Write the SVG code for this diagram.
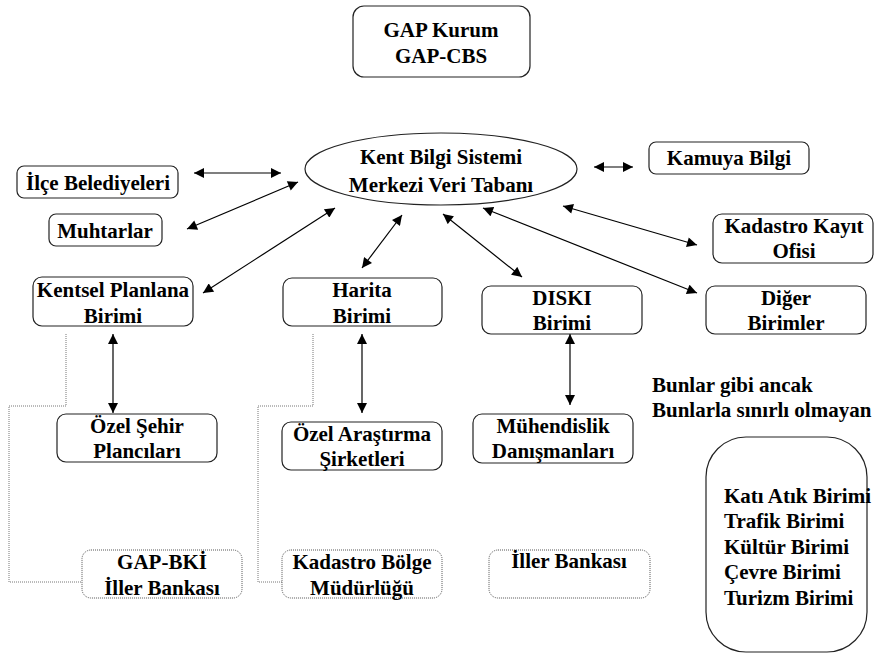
<svg xmlns="http://www.w3.org/2000/svg" width="875" height="655" viewBox="0 0 875 655">
<style>
.box{fill:#fff;stroke:#222;stroke-width:1.2}
.dbox{fill:#fff;stroke:#555;stroke-width:1;stroke-dasharray:1 1}
text{font-family:'Liberation Serif','Times New Roman','DejaVu Serif',serif;font-weight:bold;font-size:21px;fill:#000}
.c{text-anchor:middle}
.arr{stroke:#000;stroke-width:1.2;fill:none;marker-start:url(#ah);marker-end:url(#ah)}
.dot{stroke:#777;stroke-width:1;fill:none;stroke-dasharray:1 1}
</style>
<defs>
<marker id="ah" viewBox="0 0 10 10" refX="10" refY="5" markerWidth="11" markerHeight="10" markerUnits="userSpaceOnUse" orient="auto-start-reverse">
<path d="M0,0 L10,5 L0,10 Z" fill="#000"/>
</marker>
</defs>
<rect width="875" height="655" fill="#fff"/>
<g id="connectors">
<line class="arr" x1="194" y1="173" x2="281" y2="173"/>
<line class="arr" x1="187" y1="229" x2="298" y2="182"/>
<line class="arr" x1="203" y1="293" x2="335" y2="208"/>
<line class="arr" x1="362" y1="268" x2="402" y2="215"/>
<line class="arr" x1="443" y1="214" x2="522" y2="277"/>
<line class="arr" x1="594" y1="167" x2="633" y2="167"/>
<line class="arr" x1="563" y1="206" x2="697" y2="245"/>
<line class="arr" x1="483" y1="208" x2="697" y2="293"/>
<line class="arr" x1="113" y1="334" x2="113" y2="413"/>
<line class="arr" x1="362" y1="334" x2="362" y2="413"/>
<line class="arr" x1="570" y1="334" x2="570" y2="405"/>
<polyline class="dot" points="66,334 66,406 9,406 9,582 82,582"/>
<polyline class="dot" points="313,334 313,406 258,406 258,582 282,582"/>
</g>
<g id="gap"><rect class="box" x="353" y="6" width="177" height="71" rx="11"/>
<text class="c" x="441" y="37">GAP Kurum</text><text class="c" x="441" y="63">GAP-CBS</text></g>
<g id="kbs"><ellipse class="box" cx="441" cy="169" rx="136" ry="36"/>
<text class="c" x="441" y="164">Kent Bilgi Sistemi</text><text class="c" x="441" y="192">Merkezi Veri Tabanı</text></g>
<g id="ilce"><rect class="box" x="17" y="166" width="161" height="32" rx="7"/>
<text class="c" x="98" y="190">İlçe Belediyeleri</text></g>
<g id="muhtar"><rect class="box" x="49" y="214" width="113" height="32" rx="7"/>
<text class="c" x="105" y="238">Muhtarlar</text></g>
<g id="kentsel"><rect class="box" x="33" y="277" width="160" height="49" rx="9"/>
<text class="c" x="113" y="297">Kentsel Planlana</text><text class="c" x="113" y="323">Birimi</text></g>
<g id="harita"><rect class="box" x="283" y="278" width="159" height="48" rx="9"/>
<text class="c" x="362" y="297">Harita</text><text class="c" x="362" y="323">Birimi</text></g>
<g id="diski"><rect class="box" x="482" y="286" width="160" height="48" rx="9"/>
<text class="c" x="562" y="305">DISKI</text><text class="c" x="562" y="330">Birimi</text></g>
<g id="kamuya"><rect class="box" x="649" y="142" width="160" height="32" rx="7"/>
<text class="c" x="729" y="165">Kamuya Bilgi</text></g>
<g id="kadastro"><rect class="box" x="713" y="214" width="160" height="49" rx="9"/>
<text class="c" x="794" y="233">Kadastro Kayıt</text><text class="c" x="794" y="258">Ofisi</text></g>
<g id="diger"><rect class="box" x="706" y="286" width="160" height="48" rx="9"/>
<text class="c" x="786" y="305">Diğer</text><text class="c" x="786" y="330">Birimler</text></g>
<g id="ozelsehir"><rect class="box" x="57" y="414" width="160" height="48" rx="9"/>
<text class="c" x="137" y="433">Özel Şehir</text><text class="c" x="137" y="458">Plancıları</text></g>
<g id="ozelarastirma"><rect class="box" x="282" y="422" width="160" height="48" rx="9"/>
<text class="c" x="362" y="441">Özel Araştırma</text><text class="c" x="362" y="466">Şirketleri</text></g>
<g id="muhendislik"><rect class="box" x="473" y="414" width="160" height="49" rx="9"/>
<text class="c" x="553" y="433">Mühendislik</text><text class="c" x="553" y="458">Danışmanları</text></g>
<g id="gapbki"><rect class="dbox" x="82" y="550" width="160" height="48" rx="9"/>
<text class="c" x="162" y="569">GAP-BKİ</text><text class="c" x="162" y="595">İller Bankası</text></g>
<g id="kadastrobolge"><rect class="dbox" x="282" y="550" width="160" height="48" rx="9"/>
<text class="c" x="362" y="569">Kadastro Bölge</text><text class="c" x="362" y="595">Müdürlüğü</text></g>
<g id="iller"><rect class="dbox" x="489" y="550" width="161" height="48" rx="9"/>
<text class="c" x="569" y="568">İller Bankası</text></g>
<g id="bunlar"><text x="652" y="392">Bunlar gibi ancak</text><text x="652" y="417">Bunlarla sınırlı olmayan</text></g>
<g id="birimler"><rect class="box" x="706" y="437" width="161" height="215" rx="40"/>
<text x="724" y="503">Katı Atık Birimi</text>
<text x="724" y="528">Trafik Birimi</text>
<text x="724" y="554">Kültür Birimi</text>
<text x="724" y="579">Çevre Birimi</text>
<text x="724" y="605">Turizm Birimi</text></g>
</svg>
